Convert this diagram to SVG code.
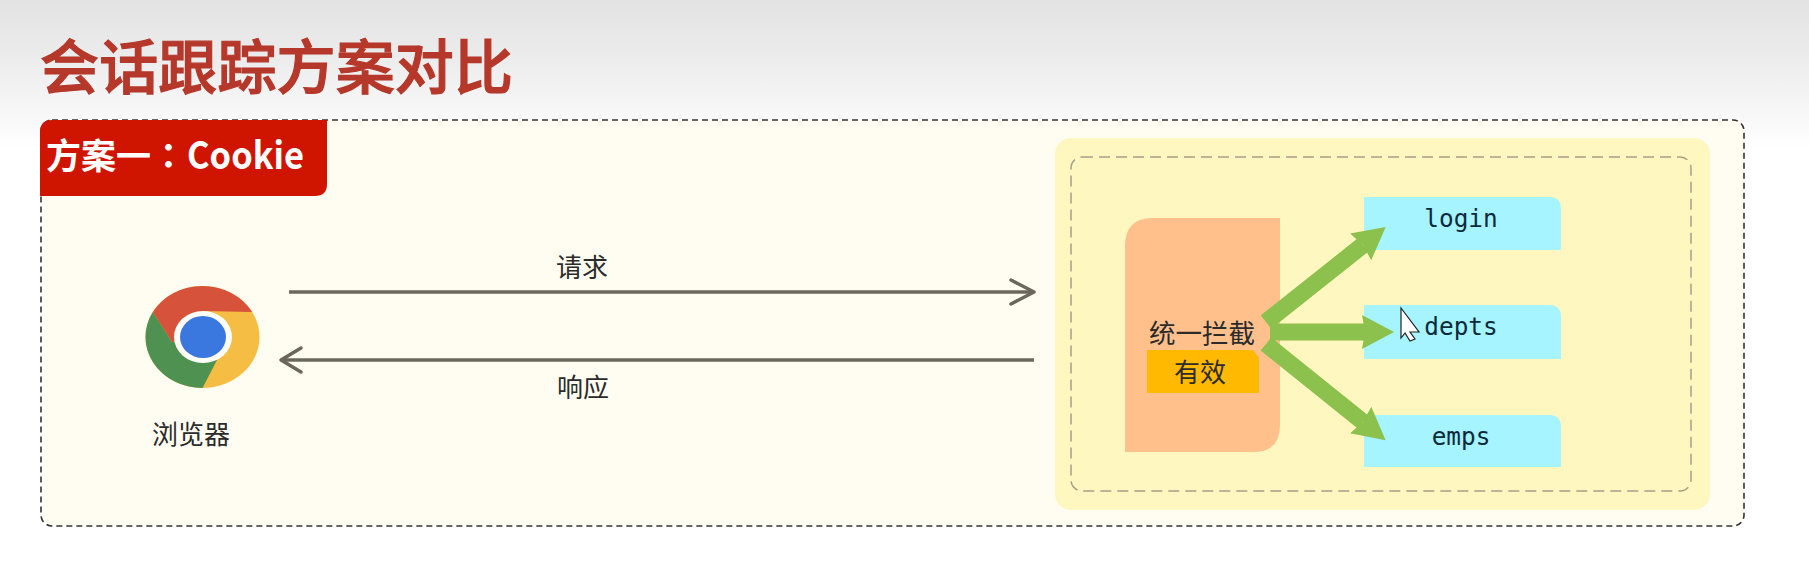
<svg xmlns="http://www.w3.org/2000/svg" width="1809" height="565" viewBox="0 0 1809 565">
<style>
.cjk{font-family:"Noto Sans CJK SC","Noto Sans",sans-serif;fill:#2b2b2b;font-size:26px;text-anchor:middle}
.mono{font-family:"DejaVu Sans Mono","Liberation Mono",monospace;fill:#0c2a3a;font-size:24.4px;text-anchor:middle}
.svc{fill:#a5f4ff}
.thin{fill:none;stroke:#6b675c;stroke-width:3.5}
.head{fill:none;stroke:#6b675c;stroke-width:3.5;stroke-linecap:round;stroke-linejoin:round}
.green{stroke:#8bc14c;stroke-width:17;fill:none}
</style>
<defs>
<linearGradient id="bg" x1="0" y1="0" x2="0" y2="1"><stop offset="0" stop-color="#e3e3e3"/><stop offset="0.35" stop-color="#ebebeb"/><stop offset="1" stop-color="#ffffff"/></linearGradient>
<marker id="gh" markerUnits="userSpaceOnUse" markerWidth="40" markerHeight="40" refX="3" refY="20" orient="auto"><path d="M0,3 L32,20 L0,37 L3,20 Z" fill="#8bc14c"/></marker>
</defs>
<rect width="1809" height="565" fill="#ffffff"/>
<rect width="1809" height="150" fill="url(#bg)"/>
<text id="title" x="40" y="89" style="font-family:'Noto Sans CJK SC',sans-serif;font-weight:500;font-size:59px;fill:#b5382a;stroke:#b5382a;stroke-width:1.2px" textLength="473" lengthAdjust="spacing">会话跟踪方案对比</text>
<g id="panel">
<rect x="41" y="120" width="1703" height="406" rx="11" fill="#fffdf1" stroke="#333" stroke-width="1.6" stroke-dasharray="6 4"/>
</g>
<g id="tag">
<path d="M52,120 H327 V184 Q327,196 315,196 H40 V132 Q40,120 52,120 Z" fill="#cf1500"/>
<text y="169" style="font-family:'Noto Sans CJK SC',sans-serif;font-weight:700;font-size:35px;fill:#fff"><tspan x="46">方案一</tspan><tspan x="151" style="font-family:'Noto Sans CJK TC',sans-serif">：</tspan><tspan x="187" style="font-size:38px" textLength="117" lengthAdjust="spacingAndGlyphs">Cookie</tspan></text>
</g>
<g id="server">
<rect x="1055" y="138" width="655" height="372" rx="16" fill="#fff7bf"/>
<rect x="1071" y="157" width="620" height="334" rx="11" fill="none" stroke="#a89f8a" stroke-width="1.5" stroke-dasharray="11 6"/>
</g>
<g id="browser">
<ellipse cx="202.5" cy="337" rx="57" ry="51" fill="#f6bd45"/>
<path d="M252.2,312 A57,51 0 0 0 152.8,312 L172,342 L203,337 L203,311 Z" fill="#d6523a"/>
<path d="M152.8,312 A57,51 0 0 0 202.5,388 L217,360 L203,337 L172,342 Z" fill="#4f9150"/>
<ellipse cx="203" cy="337" rx="29" ry="26" fill="#fffdf8"/>
<ellipse cx="203" cy="337" rx="23" ry="21" fill="#3a78e0"/>
<text class="cjk" x="191" y="444">浏览器</text>
</g>
<g id="interceptor">
<path d="M1153,218 H1280 V425 Q1280,452 1253,452 H1125 V246 Q1125,218 1153,218 Z" fill="#ffc08c"/>
<text class="cjk" x="1202" y="343" style="font-size:26.5px">统一拦截</text>
<path d="M1147,350 H1253 L1259,358 V393 H1147 Z" fill="#ffb900"/>
<text class="cjk" x="1200" y="382">有效</text>
</g>
<g id="login">
<path class="svc" d="M1364,197 H1549 Q1561,197 1561,209 V250 H1364 Z"/>
<text class="mono" x="1461" y="227">login</text>
</g>
<g id="depts">
<path class="svc" d="M1364,305 H1549 Q1561,305 1561,317 V359 H1364 Z"/>
<text class="mono" x="1461" y="335">depts</text>
</g>
<g id="emps">
<path class="svc" d="M1364,415 H1549 Q1561,415 1561,427 V467 H1364 Z"/>
<text class="mono" x="1461" y="445">emps</text>
</g>
<g id="connectors">
<line class="thin" x1="289" y1="292" x2="1033" y2="292"/>
<path class="head" d="M1011,280 L1034,292 L1011,304"/>
<line class="thin" x1="1034" y1="360" x2="281" y2="360"/>
<path class="head" d="M301,348 L281,360 L301,372"/>
<text class="cjk" x="582" y="277">请求</text>
<text class="cjk" x="583" y="397">响应</text>
<line class="green" x1="1266" y1="322" x2="1363" y2="245" marker-end="url(#gh)"/>
<line class="green" x1="1270" y1="332" x2="1365" y2="332" marker-end="url(#gh)"/>
<line class="green" x1="1266" y1="344" x2="1363" y2="422" marker-end="url(#gh)"/>
</g>
<path id="cursor" d="M1401,308 L1419,332 L1410,332 L1415,339 L1410,341 L1405,333 L1401,338 Z" fill="#fff" stroke="#222" stroke-width="1.2"/>
</svg>
